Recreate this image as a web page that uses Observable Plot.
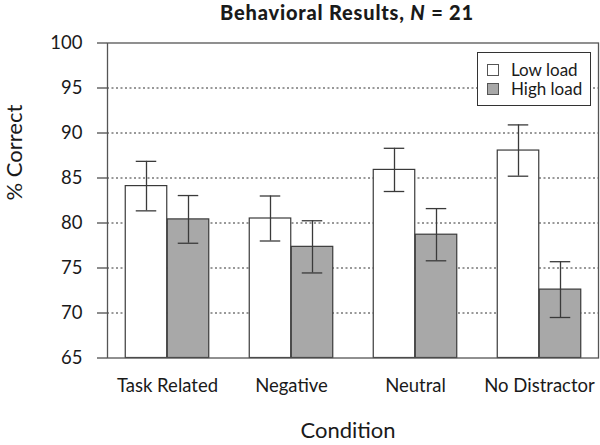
<!DOCTYPE html>
<html><head><meta charset="utf-8">
<script src="https://cdn.jsdelivr.net/npm/d3@7"></script>
<script src="https://cdn.jsdelivr.net/npm/@observablehq/plot@0.6"></script>
<style>
body{margin:0;background:#fff;font-family:Lato,"Open Sans",sans-serif;color:#1a1a1a}
#wrap{position:relative;width:600px;height:445px}
#title{height:30px;width:600px;box-sizing:border-box;padding-left:94px;text-align:center;font-weight:900;font-size:20px;letter-spacing:0.8px;line-height:24px}
#legend{position:absolute;left:477px;top:52px;width:112px;height:52px;border:1px solid #333;background:#fff;font-size:17px;box-sizing:content-box}
.row{position:absolute;left:9px;height:18px;line-height:18px;white-space:nowrap}
.sw{display:inline-block;width:10px;height:10px;border:1px solid #555;margin-right:12px;vertical-align:0px}
</style></head><body>
<div id="wrap">
<div id="title">Behavioral Results, <i>N</i> = 21</div>
<div id="chart"></div>
<div id="legend">
  <div class="row" style="top:8px"><span class="sw" style="background:#fff"></span>Low load</div>
  <div class="row" style="top:27px"><span class="sw" style="background:#a8a8a8"></span>High load</div>
</div>
</div>
<script>
const conditions = ["Task Related", "Negative", "Neutral", "No Distractor"];
const lowLoad = [84.1, 80.5, 85.9, 88.05];
const highLoad = [80.4, 77.35, 78.7, 72.6];
const lowErr = [2.75, 2.5, 2.4, 2.85];
const highErr = [2.65, 2.9, 2.9, 3.1];
const yTicks = [65, 70, 75, 80, 85, 90, 95, 100];
const gridTicks = [70, 75, 80, 85, 90, 95];
const yDomain = [65, 100];

const low = conditions.map((c, i) => ({condition: c, v: lowLoad[i], lo: lowLoad[i] - lowErr[i], hi: lowLoad[i] + lowErr[i]}));
const high = conditions.map((c, i) => ({condition: c, v: highLoad[i], lo: highLoad[i] - highErr[i], hi: highLoad[i] + highErr[i]}));

const half = 62.25, barW = 42, capHalf = 10.5, off = 21;
const stroke = "#3a3a3a";

const chart = Plot.plot({
  width: 600,
  height: 415,
  marginTop: 12.5,
  marginBottom: 87.5,
  marginLeft: 107,
  marginRight: 2,
  style: {fontFamily: "Lato, 'Open Sans', sans-serif", fontSize: "18.5px", color: "#1a1a1a", background: "#fff"},
  x: {type: "band", domain: conditions, range: [104, 602], padding: 0, tickSize: 0, tickPadding: 21, label: null},
  y: {domain: yDomain, ticks: yTicks, tickSize: 10, tickPadding: 15, label: null},
  marks: [
    Plot.ruleY(gridTicks, {stroke: "#333", strokeDasharray: "2,2.5", strokeWidth: 1}),
    Plot.barY(low, {x: "condition", y1: () => yDomain[0], y2: "v", fill: "#fff", stroke, strokeWidth: 1.2, insetLeft: half - barW, insetRight: half}),
    Plot.barY(high, {x: "condition", y1: () => yDomain[0], y2: "v", fill: "#a8a8a8", stroke, strokeWidth: 1.2, insetLeft: half, insetRight: half - barW}),
    Plot.ruleX(low, {x: "condition", y1: "lo", y2: "hi", dx: -off, stroke, strokeWidth: 1.3}),
    Plot.ruleX(high, {x: "condition", y1: "lo", y2: "hi", dx: off, stroke, strokeWidth: 1.3}),
    Plot.tickY(low, {x: "condition", y: "hi", dx: -off, insetLeft: half - capHalf, insetRight: half - capHalf, stroke, strokeWidth: 1.3}),
    Plot.tickY(low, {x: "condition", y: "lo", dx: -off, insetLeft: half - capHalf, insetRight: half - capHalf, stroke, strokeWidth: 1.3}),
    Plot.tickY(high, {x: "condition", y: "hi", dx: off, insetLeft: half - capHalf, insetRight: half - capHalf, stroke, strokeWidth: 1.3}),
    Plot.tickY(high, {x: "condition", y: "lo", dx: off, insetLeft: half - capHalf, insetRight: half - capHalf, stroke, strokeWidth: 1.3}),
    Plot.frame({stroke: "#555", strokeWidth: 1.3}),
    Plot.text(["% Correct"], {frameAnchor: "left", dx: -93, rotate: -90, fontSize: 22, fill: "#1a1a1a"}),
    Plot.text(["Condition"], {frameAnchor: "bottom", dx: -5, dy: 80, fontSize: 22, fill: "#1a1a1a"})
  ]
});
document.getElementById("chart").appendChild(chart);
</script>
</body></html>
